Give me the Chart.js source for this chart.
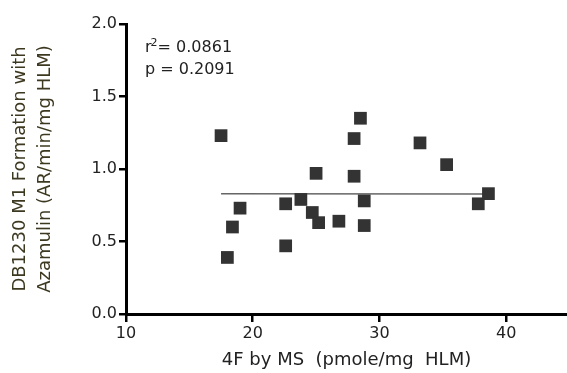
<!DOCTYPE html>
<html>
<head>
<meta charset="utf-8">
<script src="https://cdn.jsdelivr.net/npm/chart.js@4"></script>
<style>
  html, body { margin: 0; padding: 0; background: #fff; }
  #chart { display: block; }
</style>
</head>
<body>
<canvas id="chart" width="567" height="373"></canvas>
<script>
// Dati
const xVals = [17.5, 18.0, 18.4, 19.0, 22.6, 22.6, 23.8, 24.7, 25.0, 25.2, 26.8, 28.0, 28.0, 28.5, 28.8, 28.8, 33.2, 35.3, 37.8, 38.6];
const yVals = [1.23, 0.39, 0.60, 0.73, 0.76, 0.47, 0.79, 0.70, 0.97, 0.63, 0.64, 0.95, 1.21, 1.35, 0.78, 0.61, 1.18, 1.03, 0.76, 0.83];

// Retta di regressione
const fitX = [17.5, 38.6];
const fitY = [0.830, 0.828];

const xTicks = [10, 20, 30, 40];
const yTicks = [0, 0.5, 1.0, 1.5, 2.0];

const statLines = ['= 0.0861', 'p = 0.2091'];
const statPos = { x: 11.5, y: [1.834, 1.683] };

const fontFamily = '"DejaVu Sans", "Liberation Sans", Arial, sans-serif';
const tickFont = { family: fontFamily, size: 16 };

const scatterData = xVals.map((x, i) => ({ x: x, y: yVals[i] }));
const fitData = fitX.map((x, i) => ({ x: x, y: fitY[i] }));

// Plugin per il testo r² / p
const statsPlugin = {
    id: 'stats',
    afterDatasetsDraw(chart) {
        const ctx = chart.ctx;
        const xs = chart.scales.x;
        const ys = chart.scales.y;
        const x0 = xs.getPixelForValue(statPos.x);
        const y1 = ys.getPixelForValue(statPos.y[0]);
        const y2 = ys.getPixelForValue(statPos.y[1]);
        ctx.save();
        ctx.fillStyle = '#222';
        ctx.textBaseline = 'middle';
        ctx.textAlign = 'left';
        ctx.font = '16px ' + fontFamily;
        ctx.fillText('r', x0, y1);
        const rw = ctx.measureText('r').width;
        ctx.font = '11px ' + fontFamily;
        ctx.fillText('2', x0 + rw - 1, y1 - 5);
        const sw = ctx.measureText('2').width;
        ctx.font = '16px ' + fontFamily;
        ctx.fillText(statLines[0], x0 + rw + sw - 1, y1);
        ctx.fillText(statLines[1], x0, y2);
        ctx.restore();
    }
};

const chart = new Chart(document.getElementById('chart').getContext('2d'), {
    type: 'scatter',
    data: {
        datasets: [{
            label: 'dati',
            data: scatterData,
            pointStyle: 'rect',
            pointRadius: 9,
            pointHoverRadius: 9,
            backgroundColor: '#333333',
            borderWidth: 0
        }, {
            label: 'fit',
            type: 'line',
            data: fitData,
            borderColor: '#666666',
            borderWidth: 1.5,
            pointRadius: 0,
            fill: false
        }]
    },
    options: {
        responsive: false,
        devicePixelRatio: 1,
        animation: false,
        layout: { autoPadding: false, padding: { top: 24, right: 0, bottom: 0, left: 0 } },
        plugins: {
            legend: { display: false },
            tooltip: { enabled: false }
        },
        scales: {
            x: {
                type: 'linear',
                min: 10,
                max: 44.8,
                afterBuildTicks: axis => { axis.ticks = xTicks.map(v => ({ value: v })); },
                afterFit: scale => { scale.height = 59; },
                border: { display: true, color: '#000', width: 3 },
                grid: { drawOnChartArea: false, drawTicks: true, tickLength: 8, color: '#000', lineWidth: 2.5 },
                ticks: { color: '#222', font: tickFont, padding: 2, maxRotation: 0 },
                title: {
                    display: true,
                    text: '4F by MS  (pmole/mg  HLM)',
                    color: '#222',
                    font: { family: fontFamily, size: 18 },
                    padding: { top: 0, bottom: 2 }
                }
            },
            y: {
                type: 'linear',
                min: 0,
                max: 2,
                afterBuildTicks: axis => { axis.ticks = yTicks.map(v => ({ value: v })); },
                afterFit: scale => { scale.width = 126; },
                border: { display: true, color: '#000', width: 3 },
                grid: { drawOnChartArea: false, drawTicks: true, tickLength: 7, color: '#000', lineWidth: 2.5 },
                ticks: { color: '#222', font: tickFont, padding: 2, callback: v => v.toFixed(1) },
                title: {
                    display: true,
                    text: ['DB1230 M1 Formation with', 'Azamulin (AR/min/mg HLM)'],
                    color: '#3d3820',
                    font: { family: fontFamily, size: 18, lineHeight: 1.39 },
                    padding: { top: 7.5, bottom: 0 }
                }
            }
        }
    },
    plugins: [statsPlugin]
});
</script>
</body>
</html>
